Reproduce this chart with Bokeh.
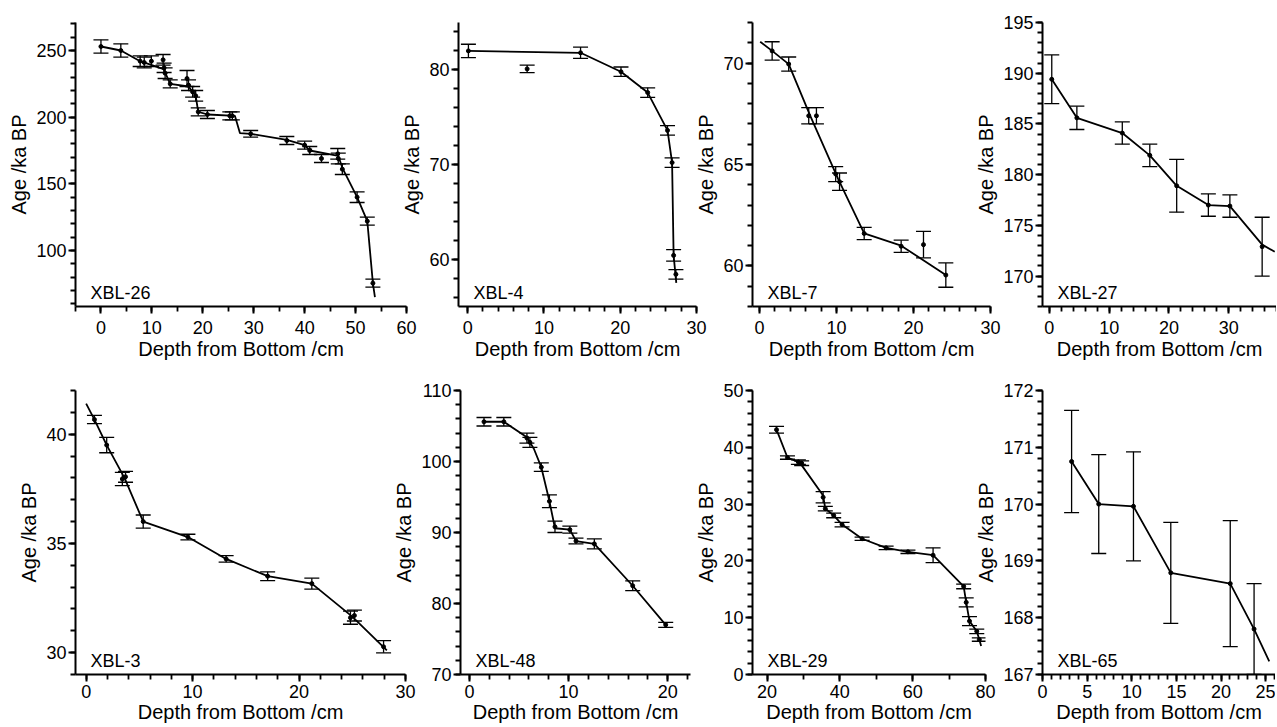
import numpy as np
from bokeh.plotting import figure
from bokeh.layouts import row, column
from bokeh.models import (Range1d, FixedTicker, ColumnDataSource, Whisker,
                          TeeHead, Label)
from bokeh.embed import file_html
from bokeh.resources import INLINE

# ---------------- data (depth from bottom /cm, age /ka BP, 1-sigma error) -------------
xbl26_depth = [0, 3.9, 7.7, 8.5, 9.9, 12.2, 12.4, 12.6, 13.6, 16.9, 17.2, 18.0, 18.6,
               19.1, 20.9, 25.3, 25.8, 29.4, 36.5, 40.0, 41.0, 43.3, 46.5, 46.6, 47.4,
               50.3, 52.3, 53.4]
xbl26_age = [253, 250, 242, 241, 242, 243, 237, 233, 225, 229, 224, 219, 216,
             204, 202, 201, 201, 187.5, 182.5, 179, 175, 169, 172.5, 169, 161,
             140, 122, 75.5]
xbl26_err = [5, 5, 4, 4, 4, 4, 3.5, 4, 3, 6, 4, 4, 4,
             3, 3, 3, 3, 2.5, 3, 3, 3, 3, 4, 4, 4,
             4, 3, 3]
xbl26_line_depth = [0, 3.9, 7.7, 12.3, 13.6, 17.2, 18.6, 19.1, 21, 26.3, 27.3, 29.4,
                    36.5, 40, 41, 46.6, 47.4, 50.3, 52.3, 53.4, 53.8]
xbl26_line_age = [253, 250, 242, 236, 225, 223, 216, 204, 202, 201, 188, 187.5,
                  183, 179, 175, 171, 162, 140, 122, 75.5, 65]

xbl4_depth = [0.1, 7.8, 14.8, 20.1, 23.6, 26.2, 26.8, 27.0, 27.3]
xbl4_age = [82.0, 80.1, 81.8, 79.8, 77.6, 73.6, 70.2, 60.4, 58.4]
xbl4_err = [0.7, 0.4, 0.6, 0.5, 0.5, 0.5, 0.5, 0.6, 0.5]
xbl4_line_depth = [0, 14.8, 20.1, 23.6, 26.2, 26.8, 27.0, 27.35]
xbl4_line_age = [82.0, 81.8, 79.8, 77.6, 73.6, 70.2, 60.4, 57.5]

xbl7_depth = [1.65, 3.8, 6.4, 7.4, 9.9, 10.4, 13.6, 18.4, 21.3, 24.2]
xbl7_age = [70.6, 69.95, 67.4, 67.4, 64.53, 64.15, 61.6, 60.97, 61.05, 59.55]
xbl7_err = [0.45, 0.35, 0.4, 0.4, 0.37, 0.43, 0.3, 0.3, 0.65, 0.6]
xbl7_line_depth = [0.1, 1.65, 3.8, 6.6, 10.2, 13.6, 18.4, 24.2]
xbl7_line_age = [71.05, 70.6, 69.95, 67.4, 64.3, 61.6, 61.0, 59.55]

xbl27_depth = [0.4, 4.6, 12.2, 16.8, 21.3, 26.6, 30.2, 35.6]
xbl27_age = [189.4, 185.6, 184.1, 181.9, 178.9, 177.0, 176.9, 172.9]
xbl27_err = [2.4, 1.15, 1.1, 1.1, 2.6, 1.1, 1.1, 2.9]
xbl27_line_depth = [0.4, 4.6, 12.2, 16.8, 21.3, 26.6, 30.2, 35.6, 37.7]
xbl27_line_age = [189.4, 185.6, 184.1, 181.9, 178.9, 177.0, 176.9, 173.1, 172.4]

xbl3_depth = [0.78, 1.93, 3.4, 3.7, 5.36, 9.56, 13.15, 17.05, 21.2, 24.83, 25.2, 27.94]
xbl3_age = [40.67, 39.5, 37.95, 38.05, 36.0, 35.29, 34.29, 33.5, 33.16, 31.6, 31.7, 30.27]
xbl3_err = [0.19, 0.35, 0.3, 0.25, 0.3, 0.13, 0.15, 0.2, 0.25, 0.3, 0.25, 0.28]
xbl3_line_depth = [0, 0.78, 1.93, 3.6, 5.36, 9.56, 13.15, 17.05, 21.2, 25.0, 28.25]
xbl3_line_age = [41.4, 40.67, 39.5, 38.0, 36.0, 35.29, 34.29, 33.5, 33.16, 31.65, 30.1]

xbl48_depth = [1.47, 3.47, 5.8, 6.1, 7.25, 8.07, 8.63, 10.13, 10.75, 12.6, 16.47, 19.8]
xbl48_age = [105.6, 105.6, 103.3, 102.7, 99.2, 94.4, 90.8, 90.4, 88.8, 88.4, 82.5, 77.0]
xbl48_err = [0.6, 0.6, 0.7, 0.7, 0.6, 0.9, 0.8, 0.5, 0.4, 0.7, 0.7, 0.35]
xbl48_line_depth = [1.47, 3.47, 5.8, 6.5, 7.25, 8.07, 8.63, 10.13, 10.75, 12.6, 16.47, 19.8]
xbl48_line_age = [105.6, 105.6, 103.4, 101.8, 99.2, 94.4, 90.6, 90.4, 88.8, 88.4, 82.5, 77.0]

xbl29_depth = [22.6, 25.6, 28.6, 29.5, 35.4, 36.0, 38.3, 40.6, 46.1, 52.7, 58.7, 65.6,
               74.0, 74.7, 75.6, 77.6, 78.3]
xbl29_age = [43.1, 38.2, 37.4, 37.2, 31.2, 29.2, 28.0, 26.4, 23.9, 22.3, 21.6, 21.0,
             15.5, 12.7, 9.4, 7.6, 6.15]
xbl29_err = [0.6, 0.3, 0.4, 0.4, 1.0, 0.4, 0.4, 0.4, 0.3, 0.3, 0.3, 1.3,
             0.4, 0.8, 0.8, 0.4, 0.3]
xbl29_line_depth = [22.6, 25.6, 29.0, 35.4, 36.0, 38.3, 40.6, 46.1, 52.7, 58.7, 65.6,
                    74.0, 74.7, 75.6, 77.6, 78.3, 78.8]
xbl29_line_age = [43.1, 38.2, 37.3, 31.5, 29.2, 28.0, 26.4, 23.9, 22.3, 21.6, 21.0,
                  15.5, 12.7, 9.4, 7.6, 6.15, 5.0]

xbl65_depth = [3.26, 6.3, 10.19, 14.37, 21.03, 23.7]
xbl65_age = [170.75, 170.0, 169.96, 168.79, 168.6, 167.8]
xbl65_err = [0.9, 0.87, 0.96, 0.89, 1.11, 0.8]
xbl65_line_depth = [3.26, 6.3, 10.19, 14.37, 21.03, 23.7, 25.4]
xbl65_line_age = [170.75, 170.0, 169.96, 168.79, 168.6, 167.8, 167.23]

FONT = "Liberation Sans"


def fixed_ticker(lo, hi, major, nminor):
    minor = major / nminor
    majors = [round(v, 6) for v in np.arange(np.ceil(lo / major) * major, hi + 1e-9, major)]
    minors = [round(v, 6) for v in np.arange(np.ceil(lo / minor - 1e-9) * minor, hi + 1e-9, minor)]
    return FixedTicker(ticks=majors, minor_ticks=minors)


def panel(name, depth, age, err, ldepth, lage, xr, yr, xint, xminor, yint, yminor,
          bl, fw, br, bt, fh, bb, xstand, xlstand, margin_left):
    p = figure(width=bl + fw + br, height=bt + fh + bb,
               x_range=Range1d(*xr), y_range=Range1d(*yr),
               output_backend="svg", toolbar_location=None,
               min_border_left=bl, min_border_right=br,
               min_border_top=bt, min_border_bottom=bb,
               outline_line_color=None, background_fill_color=None,
               border_fill_color=None)
    p.margin = (0, 0, 0, margin_left)
    p.xgrid.visible = False
    p.ygrid.visible = False
    p.xaxis.ticker = fixed_ticker(xr[0], xr[1], xint, xminor)
    p.yaxis.ticker = fixed_ticker(yr[0], yr[1], yint, yminor)
    for ax in (p.xaxis, p.yaxis):
        ax.axis_line_width = 2
        ax.axis_line_color = "black"
        ax.major_tick_line_width = 2
        ax.minor_tick_line_width = 1.8
        ax.major_tick_line_color = "black"
        ax.minor_tick_line_color = "black"
        ax.major_tick_out = 7
        ax.major_tick_in = 0
        ax.minor_tick_out = 5
        ax.minor_tick_in = 0
        ax.major_label_text_font = FONT
        ax.major_label_text_font_size = "18px"
        ax.major_label_text_color = "black"
        ax.axis_label_text_font = FONT
        ax.axis_label_text_font_size = "20px"
        ax.axis_label_text_font_style = "normal"
        ax.axis_label_text_color = "black"
    p.xaxis.major_label_standoff = xstand
    p.xaxis.axis_label_standoff = xlstand
    p.yaxis.major_label_standoff = 2
    p.yaxis.axis_label_standoff = 3
    p.xaxis.axis_label = "Depth from Bottom /cm"
    p.yaxis.axis_label = "Age /ka BP"

    src = ColumnDataSource(dict(x=depth,
                                upper=[a + e for a, e in zip(age, err)],
                                lower=[a - e for a, e in zip(age, err)]))
    p.add_layout(Whisker(base="x", upper="upper", lower="lower", source=src,
                         dimension="height", line_color="black", line_width=1.3,
                         upper_head=TeeHead(size=15, line_color="black", line_width=1.3),
                         lower_head=TeeHead(size=15, line_color="black", line_width=1.3)))
    p.line(ldepth, lage, line_width=1.8, color="black")
    p.scatter(depth, age, size=4, color="black")
    p.add_layout(Label(x=xr[0], y=yr[0], x_offset=15, y_offset=14, text=name,
                       text_font=FONT, text_font_size="18px", text_color="black",
                       text_baseline="alphabetic", text_align="left"))
    return p


# top row: canvas top 0, frame 22..306
T = dict(bt=22, fh=284, bb=56, xstand=7, xlstand=1)
# bottom row: canvas top 362, frame 390..674
B = dict(bt=28, fh=284, bb=52, xstand=3, xlstand=0)

p1 = panel("XBL-26", xbl26_depth, xbl26_age, xbl26_err, xbl26_line_depth, xbl26_line_age,
           (-5, 60), (58, 271), 10, 2, 50, 5, 75, 331, 12, margin_left=0, **T)
p2 = panel("XBL-4", xbl4_depth, xbl4_age, xbl4_err, xbl4_line_depth, xbl4_line_age,
           (-1.2, 30), (55, 85), 10, 5, 10, 5, 68, 238, 12, margin_left=-28, **T)
p3 = panel("XBL-7", xbl7_depth, xbl7_age, xbl7_err, xbl7_line_depth, xbl7_line_age,
           (-0.9, 30), (58, 72), 10, 5, 5, 5, 68, 238, 12, margin_left=-24, **T)
p4 = panel("XBL-27", xbl27_depth, xbl27_age, xbl27_err, xbl27_line_depth, xbl27_line_age,
           (-1.15, 38.0), (167, 195), 10, 5, 5, 5, 68, 236, 0, margin_left=-30, **T)

p5 = panel("XBL-3", xbl3_depth, xbl3_age, xbl3_err, xbl3_line_depth, xbl3_line_age,
           (-1, 30), (29, 42), 10, 5, 5, 5, 75, 330, 13, margin_left=0, **B)
p6 = panel("XBL-48", xbl48_depth, xbl48_age, xbl48_err, xbl48_line_depth, xbl48_line_age,
           (-0.9, 22.3), (70, 110), 10, 5, 10, 5, 68, 232, 12, margin_left=-28, **B)
p7 = panel("XBL-29", xbl29_depth, xbl29_age, xbl29_err, xbl29_line_depth, xbl29_line_age,
           (16, 80), (0, 50), 20, 2, 10, 5, 68, 233, 12, margin_left=-18, **B)
p8 = panel("XBL-65", xbl65_depth, xbl65_age, xbl65_err, xbl65_line_depth, xbl65_line_age,
           (0, 26.1), (167, 172), 5, 5, 1, 5, 68, 235, 0, margin_left=-25, **B)

layout = column(row(p1, p2, p3, p4), row(p5, p6, p7, p8))

open("out.html", "w").write(file_html(layout, INLINE))
